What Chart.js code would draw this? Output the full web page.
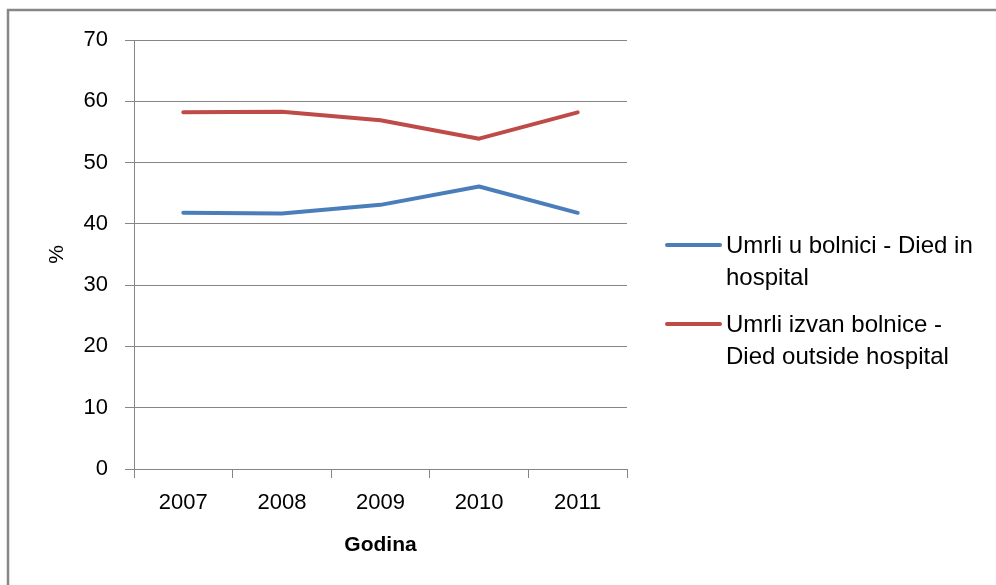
<!DOCTYPE html>
<html>
<head>
<meta charset="utf-8">
<script src="https://cdn.jsdelivr.net/npm/chart.js@4/dist/chart.umd.min.js"></script>
<style>
  html, body { margin: 0; padding: 0; background: #fff; }
  #wrap { width: 996px; height: 585px; position: relative; }
</style>
</head>
<body>
<div id="wrap"><canvas id="c" width="996" height="585"></canvas></div>
<script>
const years = ['2007', '2008', '2009', '2010', '2011'];
const diedInHospital = [41.8, 41.7, 43.1, 46.1, 41.8];
const diedOutsideHospital = [58.2, 58.3, 56.9, 53.9, 58.2];
const seriesLabels = ['Umrli u bolnici - Died in hospital', 'Umrli izvan bolnice - Died outside hospital'];
const seriesLabelLines = [['Umrli u bolnici - Died in', 'hospital'], ['Umrli izvan bolnice -', 'Died outside hospital']];
const yTicks = [0, 10, 20, 30, 40, 50, 60, 70];
const xTitle = 'Godina';
const yTitle = '%';

const FONT = "'Liberation Sans', Arial, sans-serif";
const GRID = '#868686';

const framePlugin = {
  id: 'frame',
  beforeDraw(chart) {
    const ctx = chart.ctx;
    ctx.save();
    ctx.fillStyle = '#fff';
    ctx.fillRect(0, 0, chart.width, chart.height);
    ctx.strokeStyle = '#878787';
    ctx.lineWidth = 2.5;
    ctx.strokeRect(8, 10, chart.width + 20, chart.height + 20);
    ctx.restore();
  }
};

const legendPlugin = {
  id: 'sideLegend',
  afterDraw(chart) {
    const ctx = chart.ctx;
    const x0 = chart.chartArea.right + 40;
    const lineLen = 53;
    const startY = 246;
    const lineGap = 32;
    const groupGap = 79;
    ctx.save();
    ctx.font = "24px " + FONT;
    ctx.textBaseline = 'middle';
    ctx.fillStyle = '#000';
    chart.data.datasets.forEach((ds, i) => {
      const y = startY + i * groupGap;
      ctx.strokeStyle = ds.borderColor;
      ctx.lineWidth = 4;
      ctx.lineCap = 'round';
      ctx.beginPath();
      ctx.moveTo(x0, y - 1);
      ctx.lineTo(x0 + lineLen, y - 1);
      ctx.stroke();
      seriesLabelLines[i].forEach((t, j) => {
        ctx.fillText(t, x0 + lineLen + 6, y + j * lineGap);
      });
    });
    ctx.restore();
  }
};

new Chart(document.getElementById('c'), {
  type: 'line',
  data: {
    labels: years,
    datasets: [
      { label: seriesLabels[0], data: diedInHospital, borderColor: '#4A7EBB', backgroundColor: '#4A7EBB',
        borderWidth: 4, pointRadius: 0, tension: 0, borderCapStyle: 'round', borderJoinStyle: 'round' },
      { label: seriesLabels[1], data: diedOutsideHospital, borderColor: '#BE4B48', backgroundColor: '#BE4B48',
        borderWidth: 4, pointRadius: 0, tension: 0, borderCapStyle: 'round', borderJoinStyle: 'round' }
    ]
  },
  options: {
    responsive: false,
    animation: false,
    layout: { padding: { left: 0, right: 369, top: 40, bottom: 0 } },
    plugins: { legend: { display: false }, tooltip: { enabled: false } },
    scales: {
      x: {
        offset: true,
        grid: { offset: true, drawOnChartArea: false, drawTicks: true, tickLength: 9, color: GRID, lineWidth: 1 },
        border: { display: true, color: GRID, width: 1 },
        ticks: { color: '#000', font: { family: FONT, size: 22 }, padding: 12, maxRotation: 0 },
        title: { display: true, text: xTitle, color: '#000', font: { family: FONT, size: 21, weight: 'bold' }, padding: { top: 0, bottom: 27 } },
        afterFit(s) { s.height = 116; }
      },
      y: {
        min: 0, max: 70,
        afterBuildTicks(s) { s.ticks = yTicks.map(v => ({ value: v })); },
        grid: { drawTicks: true, tickLength: 9, color: GRID, lineWidth: 1 },
        border: { display: true, color: GRID, width: 1 },
        ticks: { color: '#000', font: { family: FONT, size: 22 }, padding: 17 },
        title: { display: true, text: yTitle, color: '#000', font: { family: FONT, size: 21 }, padding: { top: 45, bottom: 0 } },
        afterFit(s) { s.width = 134; }
      }
    }
  },
  plugins: [framePlugin, legendPlugin]
});
</script>
</body>
</html>
